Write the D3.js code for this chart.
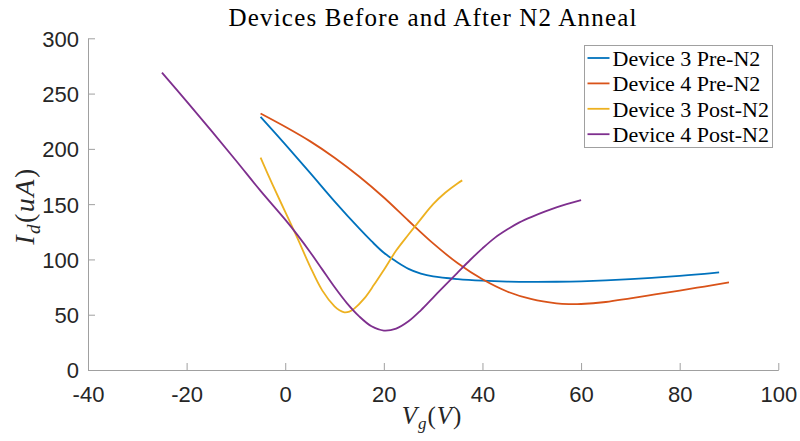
<!DOCTYPE html>
<html>
<head>
<meta charset="utf-8">
<script src="https://cdn.jsdelivr.net/npm/d3@7"></script>
<style>
  html, body { margin: 0; padding: 0; background: #fff; }
  svg { display: block; }
  .tick text { font-family: "Liberation Sans", Arial, sans-serif; font-size: 22px; fill: #262626; }
</style>
</head>
<body>
<svg id="chart" width="800" height="441"></svg>
<script>
// Gate voltage (V) and drain current (uA) sweeps for each device
const dev3PreVg  = [-5, 0, 5, 10, 15, 17.5, 20, 22.5, 25, 27.5, 30, 35, 40, 45, 50, 55, 60, 65, 70, 75, 80, 85, 88];
const dev3PreId  = [229, 204, 178.5, 152.5, 128, 116.5, 106, 98.2, 91.5, 87.2, 84.6, 82.2, 80.8, 80, 79.7, 79.8, 80.2, 81, 82.2, 83.6, 85.2, 87, 88.3];

const dev4PreVg  = [-5, 0, 5, 10, 15, 20, 25, 30, 35, 40, 45, 50, 55, 57.5, 60, 65, 70, 75, 80, 85, 90];
const dev4PreId  = [232, 220, 207, 192, 175, 156, 135, 114.5, 96.5, 82, 71, 64, 60.3, 59.6, 59.7, 61.5, 64.8, 68.3, 71.8, 75.5, 79.2];

const dev3PostVg = [-5, -2.5, 0, 2.5, 5, 7.5, 10, 11, 12, 13, 14, 16, 18, 20, 22.5, 25, 27.5, 30, 32.5, 35, 35.9];
const dev3PostId = [192, 167, 143, 119, 94, 72, 57.5, 54, 52.2, 52.8, 55.5, 64.5, 77, 90.5, 108, 122.5, 136.5, 150, 160.5, 169, 171.5];

const dev4PostVg = [-25, -20, -15, -10, -5, 0, 2.5, 5, 7.5, 10, 12.5, 15, 17.5, 20, 22.5, 25, 27.5, 30, 32.5, 35, 37.5, 40, 42.5, 45, 47.5, 50, 55, 60];
const dev4PostId = [269, 243, 216.5, 189.5, 162, 136, 122, 107, 91, 75, 60.5, 48.5, 39.5, 35.7, 37.5, 44, 54, 65.5, 77, 88.3, 99.5, 110, 119.5, 127, 133.5, 138.5, 147, 153.6];

const seriesNames  = ["Device 3 Pre-N2", "Device 4 Pre-N2", "Device 3 Post-N2", "Device 4 Post-N2"];
const seriesColors = ["#0072BD", "#D95319", "#EDB120", "#7E2F8E"];

const xTicks = [-40, -20, 0, 20, 40, 60, 80, 100];
const yTicks = [0, 50, 100, 150, 200, 250, 300];

const titleText = "Devices Before and After N2 Anneal";

const series = [
  [dev3PreVg, dev3PreId],
  [dev4PreVg, dev4PreId],
  [dev3PostVg, dev3PostId],
  [dev4PostVg, dev4PostId]
].map(([vg, id], i) => ({
  name: seriesNames[i],
  color: seriesColors[i],
  points: vg.map((v, k) => ({ x: v, y: id[k] }))
}));

const svg = d3.select("#chart");
const plotLeft = 88, plotRight = 778.3, plotTop = 38.3, plotBottom = 370;

const x = d3.scaleLinear().domain([-40, 100]).range([plotLeft, plotRight]);
const y = d3.scaleLinear().domain([0, 300]).range([plotBottom, plotTop]);

const axisColor = "#a0a0a0";
const plainNumber = d => String(d);

// Axes with inward ticks
const gx = svg.append("g")
  .attr("transform", `translate(0,${plotBottom})`)
  .call(d3.axisBottom(x).tickValues(xTicks).tickFormat(plainNumber)
    .tickSizeInner(-7).tickSizeOuter(0).tickPadding(16));
const gy = svg.append("g")
  .attr("transform", `translate(${plotLeft},0)`)
  .call(d3.axisLeft(y).tickValues(yTicks).tickFormat(plainNumber)
    .tickSizeInner(-7).tickSizeOuter(0).tickPadding(9));
[gx, gy].forEach(g => {
  g.select(".domain").attr("stroke", axisColor);
  g.selectAll(".tick line").attr("stroke", axisColor);
});
gx.selectAll(".tick text").attr("dy", "0.71em");
gy.selectAll(".tick text").attr("dy", "0.36em");

// Curves
const line = d3.line()
  .x(d => x(d.x))
  .y(d => y(d.y))
  .curve(d3.curveCatmullRom.alpha(0.5));

svg.append("g").selectAll("path")
  .data(series)
  .join("path")
  .attr("d", d => line(d.points))
  .attr("fill", "none")
  .attr("stroke", d => d.color)
  .attr("stroke-width", 1.8)
  .attr("stroke-linejoin", "round");

// Title
svg.append("text")
  .attr("x", 432.5)
  .attr("y", 26)
  .attr("text-anchor", "middle")
  .attr("font-family", "'Liberation Serif', 'DejaVu Serif', serif")
  .attr("font-size", 25)
  .attr("textLength", 408)
  .attr("lengthAdjust", "spacing")
  .attr("fill", "#000")
  .text(titleText);

// Axis labels (math style)
const xl = svg.append("text")
  .attr("x", 432)
  .attr("y", 424)
  .attr("text-anchor", "middle")
  .attr("font-family", "'Liberation Serif', 'DejaVu Serif', serif")
  .attr("font-size", 25)
  .attr("letter-spacing", 1)
  .attr("fill", "#262626");
xl.append("tspan").attr("font-style", "italic").text("V");
xl.append("tspan").attr("font-style", "italic").attr("font-size", 17).attr("dy", 5).text("g");
xl.append("tspan").attr("dy", -5).text("(");
xl.append("tspan").attr("font-style", "italic").text("V");
xl.append("tspan").text(")");

const yl = svg.append("text")
  .attr("transform", "translate(34,206) rotate(-90)")
  .attr("text-anchor", "middle")
  .attr("font-family", "'Liberation Serif', 'DejaVu Serif', serif")
  .attr("font-size", 28)
  .attr("letter-spacing", 1.5)
  .attr("fill", "#262626");
yl.append("tspan").attr("font-style", "italic").text("I");
yl.append("tspan").attr("font-style", "italic").attr("font-size", 19).attr("dy", 6).text("d");
yl.append("tspan").attr("dy", -6).text("(");
yl.append("tspan").attr("font-style", "italic").text("uA");
yl.append("tspan").text(")");

// Legend
const lg = svg.append("g").attr("transform", "translate(584.5,45.5)");
lg.append("rect")
  .attr("width", 188)
  .attr("height", 102)
  .attr("fill", "#fff")
  .attr("stroke", axisColor)
  .attr("stroke-width", 1);
const items = lg.selectAll("g.item")
  .data(series)
  .join("g")
  .attr("class", "item")
  .attr("transform", (d, i) => `translate(0,${12.5 + i * 25.4})`);
items.append("line")
  .attr("x1", 3).attr("x2", 25)
  .attr("stroke", d => d.color)
  .attr("stroke-width", 1.8);
items.append("text")
  .attr("x", 28)
  .attr("dy", "0.35em")
  .attr("font-family", "'Liberation Serif', 'DejaVu Serif', serif")
  .attr("font-size", 22)
  .attr("fill", "#000")
  .text(d => d.name);
</script>
</body>
</html>
